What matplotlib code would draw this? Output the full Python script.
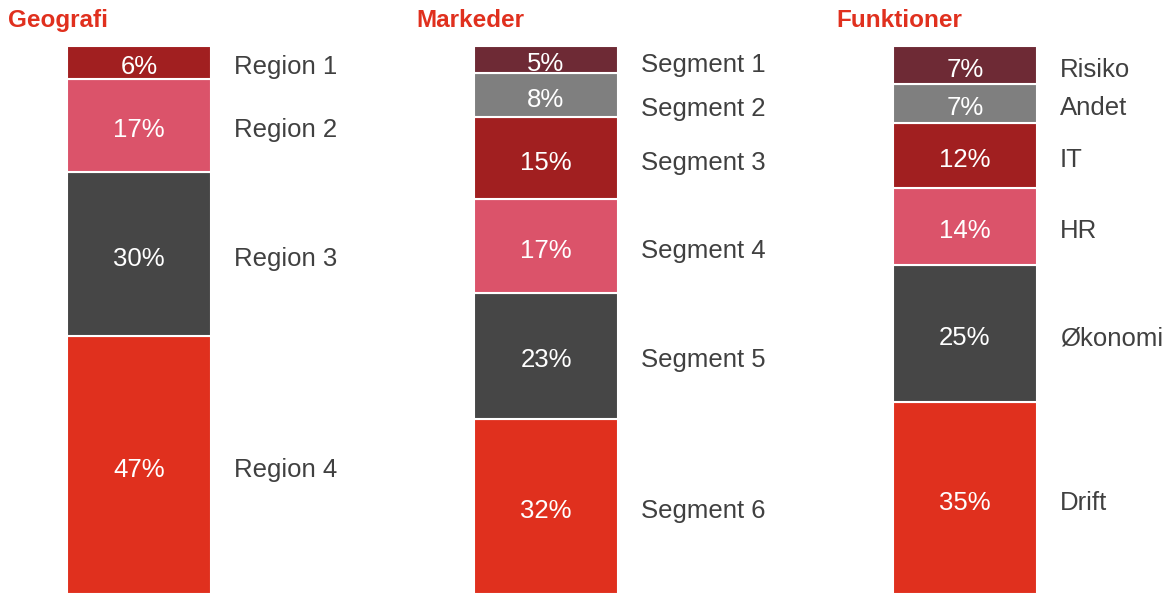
"""Tre stablede søjler: fordeling på geografi, markeder og funktioner."""

import matplotlib
matplotlib.use("Agg")
import matplotlib.pyplot as plt

plt.rcParams["font.family"] = ["Liberation Sans", "DejaVu Sans"]

# Data (top -> bund i hver søjle)
titles = ["Geografi", "Markeder", "Funktioner"]

geo_labels = ["Region 1", "Region 2", "Region 3", "Region 4"]
geo_values = [6, 17, 30, 47]

mkt_labels = ["Segment 1", "Segment 2", "Segment 3", "Segment 4", "Segment 5", "Segment 6"]
mkt_values = [5, 8, 15, 17, 23, 32]

fun_labels = ["Risiko", "Andet", "IT", "HR", "Økonomi", "Drift"]
fun_values = [7, 7, 12, 14, 25, 35]

# Farver
MAROON = "#6E2A35"
GRAY = "#7F7F7F"
DARKRED = "#A11F20"
PINK = "#DB536A"
CHARCOAL = "#464646"
RED = "#E0301E"
TEXT = "#404040"

geo_colors = [DARKRED, PINK, CHARCOAL, RED]
mkt_colors = [MAROON, GRAY, DARKRED, PINK, CHARCOAL, RED]
fun_colors = [MAROON, GRAY, DARKRED, PINK, CHARCOAL, RED]

panels = [
    (geo_labels, geo_values, geo_colors),
    (mkt_labels, mkt_values, mkt_colors),
    (fun_labels, fun_values, fun_colors),
]

# Layout (pixel-agtige x-koordinater)
W, H, TOP = 1167, 594, 46
bar_x = [139, 546, 965]
bar_w = 144
title_x = [8, 416, 836]
label_gap = 23
shift = 2  # tekst sidder lidt under midten (pixel)
# små labels skubbes lidt fra hinanden (pixel)
nudge = {"Segment 1": 1, "Segment 2": 9}

fig = plt.figure(figsize=(W / 100, H / 100), dpi=100)
ax = fig.add_axes([0, 0, 1, 1])
ax.set_xlim(0, W)
ax.set_ylim(0, 100 * H / (H - TOP))
ax.axis("off")
px = 100 / (H - TOP)  # en pixel i dataenheder

for (labels, values, colors), x, tx, title in zip(panels, bar_x, title_x, titles):
    bottom = 0
    for lab, val, col in reversed(list(zip(labels, values, colors))):
        ax.bar(x, val, bottom=bottom, width=bar_w, color=col,
               edgecolor="white", linewidth=1.5)
        yc = bottom + val / 2 - shift * px
        ax.text(x, yc, f"{val}%", ha="center", va="center_baseline",
                color="white", fontsize=18.5)
        ax.text(x + bar_w / 2 + label_gap, yc - nudge.get(lab, 0) * px, lab,
                ha="left", va="center_baseline", color=TEXT, fontsize=18.5)
        bottom += val
    ax.text(tx, 100 * (H - 20) / (H - TOP), title, ha="left", va="center",
            color=RED, fontsize=17.5, fontweight="bold")

fig.savefig("out.png", dpi=100)
